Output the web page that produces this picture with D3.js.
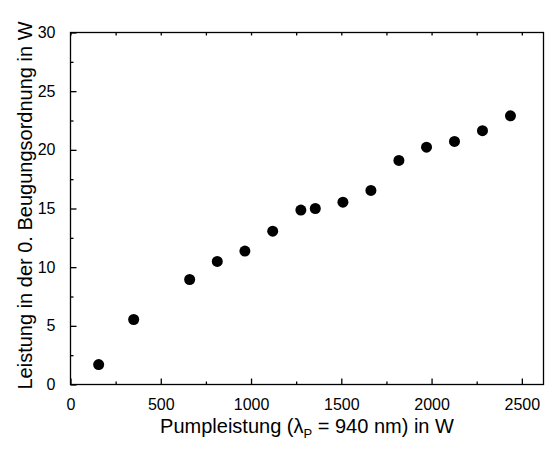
<!DOCTYPE html>
<html>
<head>
<meta charset="utf-8">
<script src="https://cdn.jsdelivr.net/npm/d3@7"></script>
<style>
  html, body { margin: 0; padding: 0; background: #fff; }
  svg { display: block; font-family: "Liberation Sans", Arial, sans-serif; }
</style>
</head>
<body>
<div id="chart"></div>
<script>
// pump power (W) and power in 0th diffraction order (W)
const pumpPower = [156, 350, 660, 813, 966, 1120, 1276, 1356, 1509, 1664, 1819, 1972, 2127, 2282, 2437];
const orderPower = [1.7, 5.54, 8.95, 10.49, 11.37, 13.07, 14.87, 15.0, 15.54, 16.54, 19.1, 20.23, 20.72, 21.63, 22.9];
const xTicks = [0, 500, 1000, 1500, 2000, 2500];
const yTicks = [0, 5, 10, 15, 20, 25, 30];

const width = 545, height = 449;
const plot = { left: 70.5, right: 543.5, top: 32.5, bottom: 384.5 };

const svg = d3.select('#chart').append('svg')
  .attr('width', width)
  .attr('height', height);

const x = d3.scaleLinear().domain([0, 2620]).range([plot.left, plot.right]);
const y = d3.scaleLinear().domain([0, 30]).range([plot.bottom, plot.top]);

const minorX = d3.range(250, 2620, 500);
const minorY = d3.range(2.5, 30, 5);

// frame
svg.append('rect')
  .attr('x', plot.left).attr('y', plot.top)
  .attr('width', plot.right - plot.left).attr('height', plot.bottom - plot.top)
  .attr('fill', 'none').attr('stroke', '#000').attr('stroke-width', 1.3);

function styleAxis(g) {
  g.select('.domain').remove();
  g.selectAll('line').attr('stroke', '#000').attr('stroke-width', 1.3);
  g.selectAll('text').attr('fill', '#000').style('font-size', '16px');
}

// bottom axis, ticks pointing inward
svg.append('g')
  .attr('transform', `translate(0,${plot.bottom})`)
  .call(d3.axisBottom(x).tickValues(xTicks).tickFormat(d3.format('d'))
    .tickSizeInner(-6).tickSizeOuter(0).tickPadding(14))
  .call(styleAxis);
svg.append('g')
  .attr('transform', `translate(0,${plot.bottom})`)
  .call(d3.axisBottom(x).tickValues(minorX).tickSizeInner(-3).tickSizeOuter(0).tickFormat(''))
  .call(styleAxis);

// top axis, small ticks only
svg.append('g')
  .attr('transform', `translate(0,${plot.top})`)
  .call(d3.axisTop(x).tickValues(xTicks.concat(minorX)).tickSizeInner(-3).tickSizeOuter(0).tickFormat(''))
  .call(styleAxis);

// left axis
svg.append('g')
  .attr('transform', `translate(${plot.left},0)`)
  .call(d3.axisLeft(y).tickValues(yTicks).tickSizeInner(-6).tickSizeOuter(0).tickPadding(15))
  .call(styleAxis);
svg.append('g')
  .attr('transform', `translate(${plot.left},0)`)
  .call(d3.axisLeft(y).tickValues(minorY).tickSizeInner(-3).tickSizeOuter(0).tickFormat(''))
  .call(styleAxis);

// data points
svg.append('g')
  .selectAll('circle')
  .data(pumpPower.map((p, i) => ({ p, v: orderPower[i] })))
  .join('circle')
  .attr('cx', d => x(d.p))
  .attr('cy', d => y(d.v))
  .attr('r', 5.5)
  .attr('fill', '#000');

// axis titles
const xTitle = svg.append('text')
  .attr('x', (plot.left + plot.right) / 2)
  .attr('y', 433)
  .attr('text-anchor', 'middle')
  .style('font-size', '20px')
  .attr('fill', '#000');
xTitle.append('tspan').text('Pumpleistung (λ');
xTitle.append('tspan').text('P').style('font-size', '13px').attr('dy', 5);
xTitle.append('tspan').text(' = 940 nm) in W').attr('dy', -5);

svg.append('text')
  .attr('transform', `translate(32,${(plot.top + plot.bottom) / 2 - 3}) rotate(-90)`)
  .attr('text-anchor', 'middle')
  .style('font-size', '20px')
  .attr('fill', '#000')
  .text('Leistung in der 0. Beugungsordnung in W');
</script>
</body>
</html>
